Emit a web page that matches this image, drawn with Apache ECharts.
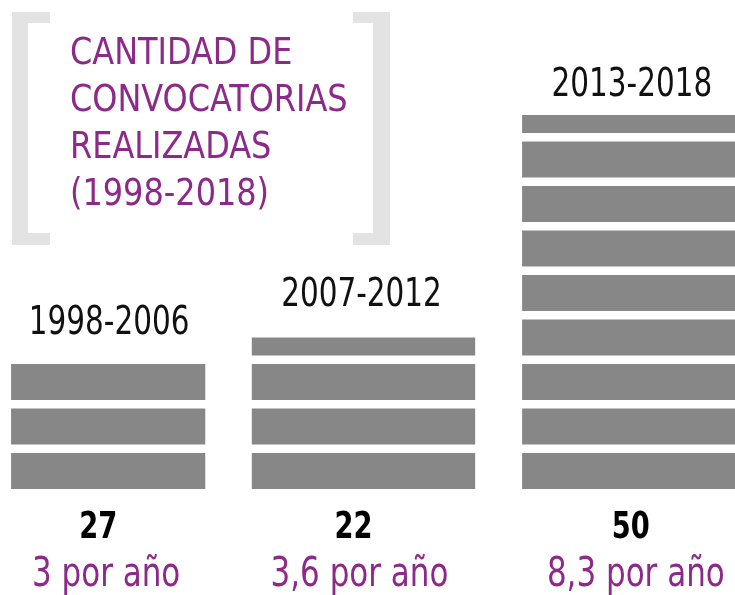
<!DOCTYPE html>
<html>
<head>
<meta charset="utf-8">
<script src="https://cdn.jsdelivr.net/npm/echarts@6/dist/echarts.min.js"></script>
<style>
  html, body { margin: 0; padding: 0; background: #fff; }
  #chart { width: 735px; height: 595px; }
</style>
</head>
<body>
<div id="chart"></div>
<script>
// convocatorias por periodo
const periods = ['1998-2006', '2007-2012', '2013-2018']
const totals = [27, 22, 50]
const perYear = [3, 3.6, 8.3]

const PURPLE = '#8c2a8a'
const GRAY = '#878787'
const BRACKET = '#e3e3e3'
const FONT = "'DejaVu Sans Condensed', 'DejaVu Sans', sans-serif"

// ancho de cada columna (fraccion de la banda), desplazamiento y ajustes de texto
const colWidth = [0.746, 0.858, 0.82]
const colShift = [0, -5, 0]
const labelGap = [21, 22, 10]
const labelDx = [1, -2, 3]
const countDx = [-10, -10, 2]
const rateDx = [-2, -4, 7]

function fmtRate (v) {
  return String(v).replace('.', ',') + ' por año'
}

function renderItem (params, api) {
  const i = params.dataIndex
  const rate = api.value(1)
  const band = api.size([1, 0])[0]
  const unit = api.size([0, 1])[1]
  const w = band * colWidth[i]
  const cx = api.coord([i, 0])[0] + colShift[i]
  const base = api.coord([i, 0])[1]
  const blockH = unit * 0.81
  const full = Math.floor(rate)
  const frac = rate - full
  const children = []
  let top = base
  for (let k = 0; k < full; k++) {
    const b = api.coord([i, k])[1]
    children.push({ type: 'rect', shape: { x: cx - w / 2, y: b - blockH, width: w, height: blockH }, style: { fill: GRAY } })
    top = b - blockH
  }
  if (frac > 0.001) {
    const b = api.coord([i, full])[1]
    const h = blockH / 2
    children.push({ type: 'rect', shape: { x: cx - w / 2, y: b - h, width: w, height: h }, style: { fill: GRAY } })
    top = b - h
  }
  // periodo
  children.push({
    type: 'text', x: cx + labelDx[i], y: top - labelGap[i], scaleX: 0.84,
    style: { x: 0, y: 0, text: periods[i], align: 'center', verticalAlign: 'bottom', fontSize: 39, fontFamily: FONT, fill: '#111' }
  })
  // total
  children.push({
    type: 'text', x: cx + countDx[i], y: base + 39, scaleX: 0.8,
    style: { x: 0, y: 0, text: String(totals[i]), align: 'center', verticalAlign: 'middle', fontSize: 38, fontWeight: 'bold', fontFamily: FONT, fill: '#000' }
  })
  // por año
  children.push({
    type: 'text', x: cx + rateDx[i], y: base + 86, scaleX: 0.84,
    style: { x: 0, y: 0, text: fmtRate(perYear[i]), align: 'center', verticalAlign: 'middle', fontSize: 41, fontFamily: FONT, fill: PURPLE }
  })
  return { type: 'group', children: children }
}

const chart = echarts.init(document.getElementById('chart'))
chart.setOption({
  animation: false,
  backgroundColor: '#fff',
  grid: { left: -22, width: 781, top: 88.5, bottom: 106, outerBoundsMode: 'none', containLabel: false },
  xAxis: {
    type: 'category',
    data: periods,
    axisLine: { show: false },
    axisTick: { show: false },
    axisLabel: { show: false }
  },
  yAxis: { type: 'value', min: 0, max: 9, show: false, splitLine: { show: false } },
  series: [{
    type: 'custom',
    renderItem: renderItem,
    data: perYear.map((v, i) => [i, v]),
    clip: false
  }],
  graphic: [
    {
      type: 'polygon',
      shape: { points: [[12, 12], [50, 12], [50, 23], [28, 23], [28, 233], [50, 233], [50, 245], [12, 245]] },
      style: { fill: BRACKET }
    },
    {
      type: 'polygon',
      shape: { points: [[353, 12], [390, 12], [390, 245], [353, 245], [353, 233], [373, 233], [373, 23], [353, 23]] },
      style: { fill: BRACKET }
    },
    {
      type: 'text',
      x: 70,
      y: 31,
      scaleX: 0.96,
      style: {
        text: 'CANTIDAD DE\nCONVOCATORIAS\nREALIZADAS\n(1998-2018)',
        fontSize: 37,
        lineHeight: 47,
        fontFamily: FONT,
        verticalAlign: 'top',
        fill: PURPLE
      }
    }
  ]
})
</script>
</body>
</html>
